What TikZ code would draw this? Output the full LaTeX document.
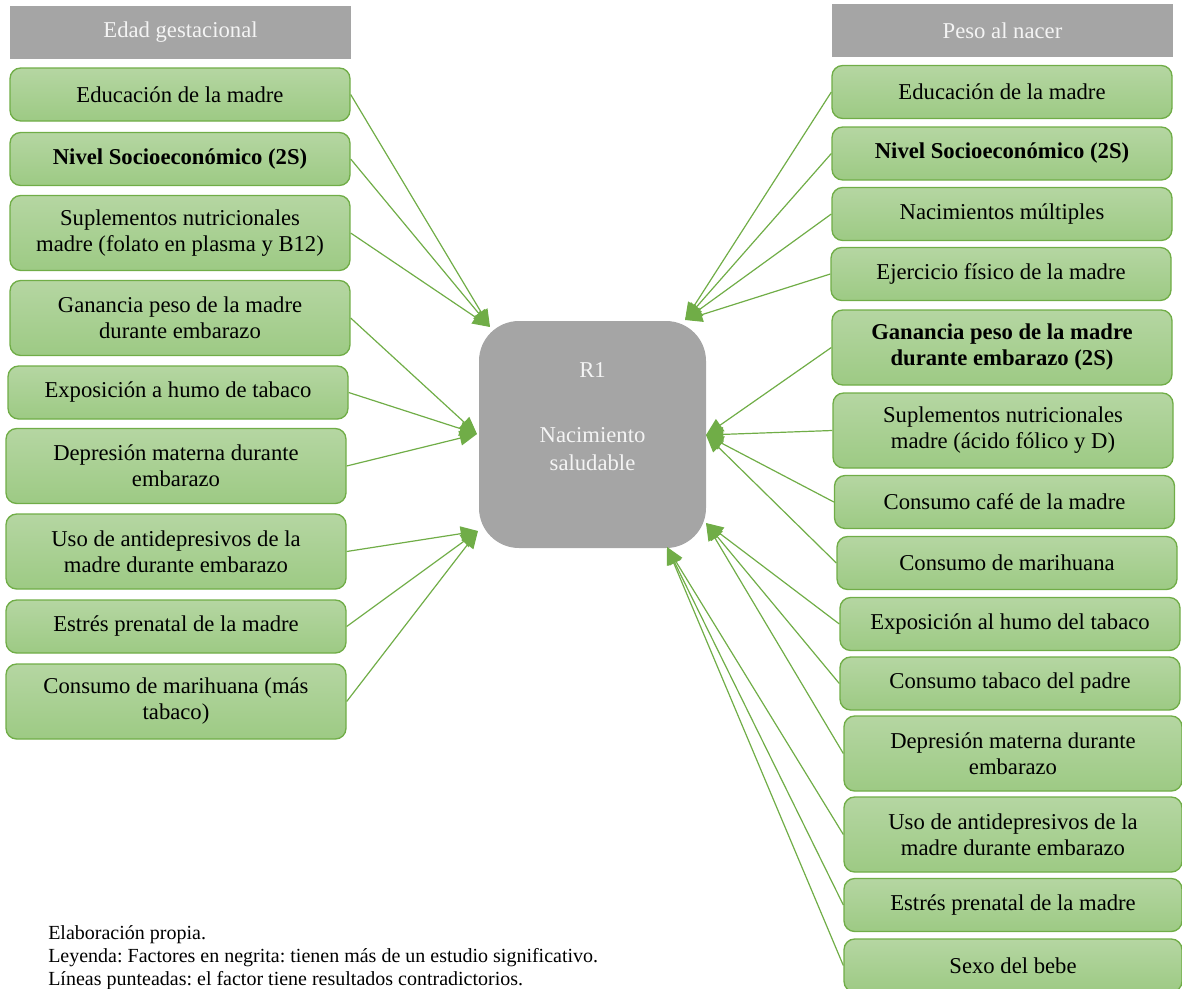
\documentclass[tikz,border=0pt]{standalone}
\usepackage{fontspec}
\setmainfont{Liberation Serif}
\usetikzlibrary{arrows.meta}
\definecolor{boxline}{HTML}{70AD47}
\definecolor{greentop}{HTML}{B5D6A2}
\definecolor{greenbot}{HTML}{9DCA84}
\definecolor{headgray}{HTML}{A5A5A5}
\definecolor{headtext}{HTML}{F4F4F4}

\begin{document}
\begin{tikzpicture}[x=0.75pt,y=-0.75pt,
  factor/.style={draw=boxline, line width=1pt, rounded corners=8pt,
    top color=greentop, bottom color=greenbot, minimum width=255pt,
    align=center, inner sep=0pt, font=\fontsize{17}{19.5}\selectfont},
  one/.style={minimum height=39.75pt},
  two/.style={minimum height=56.25pt},
  header/.style={fill=headgray, minimum width=255.75pt, minimum height=39.75pt,
    inner sep=0pt, text=headtext, font=\fontsize{17}{19.5}\selectfont},
  centretext/.style={anchor=base, inner sep=0pt, text=headtext,
    font=\fontsize{17}{19.5}\selectfont},
  link/.style={draw=boxline, line width=0.9pt, -{Triangle[length=13pt,width=11pt]}},
]
\useasboundingbox (0,0) rectangle (1182,989);
\clip (0,0) rectangle (1182,989);

% headers
\node[header] (hl) at (180.5,32.5) {Edad gestacional};
\node[header] (hr) at (1002.5,30.5) {Peso al nacer};

% central outcome
\node[fill=headgray, rounded corners=30pt, minimum width=170.25pt,
  minimum height=170.25pt, inner sep=0pt] (r1) at (592.5,434.5) {};
\node[centretext] (r1a) at (592.5,377) {R1};
\node[centretext] (r1b) at (592.5,442) {Nacimiento};
\node[centretext] (r1c) at (592.5,470) {saludable};

% gestational age factors
\node[factor,one] (l1) at (180,94.5) {Educación de la madre};
\node[factor,one] (l2) at (180,159) {\bfseries Nivel Socioeconómico (2S)};
\node[factor,two] (l3) at (180,233) {Suplementos nutricionales\\madre (folato en plasma y B12)};
\node[factor,two] (l4) at (180,318) {Ganancia peso de la madre\\durante embarazo};
\node[factor,one] (l5) at (178,392.5) {Exposición a humo de tabaco};
\node[factor,two] (l6) at (176,466) {Depresión materna durante\\embarazo};
\node[factor,two] (l7) at (176,551.5) {Uso de antidepresivos de la\\madre durante embarazo};
\node[factor,one] (l8) at (176,626.5) {Estrés prenatal de la madre};
\node[factor,two] (l9) at (176,701.5) {Consumo de marihuana (más\\tabaco)};

% birth weight factors
\node[factor,one] (w1) at (1002,92) {Educación de la madre};
\node[factor,one] (w2) at (1002,153.5) {\bfseries Nivel Socioeconómico (2S)};
\node[factor,one] (w3) at (1002,214) {Nacimientos múltiples};
\node[factor,one] (w4) at (1001,274) {Ejercicio físico de la madre};
\node[factor,two] (w5) at (1002,347.5) {\bfseries Ganancia peso de la madre\\\bfseries durante embarazo (2S)};
\node[factor,two] (w6) at (1003,430.5) {Suplementos nutricionales\\madre (ácido fólico y D)};
\node[factor,one] (w7) at (1004.5,502) {Consumo café de la madre};
\node[factor,one] (w8) at (1007,563) {Consumo de marihuana};
\node[factor,one] (w9) at (1010,624) {Exposición al humo del tabaco};
\node[factor,one] (w10) at (1010,683.5) {Consumo tabaco del padre};
\node[factor,two,minimum width=253.5pt] (w11) at (1013,753.5) {Depresión materna durante\\embarazo};
\node[factor,two,minimum width=253.5pt] (w12) at (1013,834.5) {Uso de antidepresivos de la\\madre durante embarazo};
\node[factor,one,minimum width=253.5pt] (w13) at (1013,905) {Estrés prenatal de la madre};
\node[factor,one,minimum width=253.5pt] (w14) at (1013,965.5) {Sexo del bebe};

% arrow targets around the outcome box
\coordinate (tl1) at (490,327);
\coordinate (tl2) at (477,434);
\coordinate (tl3) at (478,531);
\coordinate (tr1) at (685,320);
\coordinate (tr2) at (706,435);
\coordinate (tr3) at (706,523);
\coordinate (tr4) at (667,547);

% connectors
\foreach \s in {l1,l2,l3} \draw[link] (\s.east) -- (tl1);
\foreach \s in {l4,l5,l6} \draw[link] (\s.east) -- (tl2);
\foreach \s in {l7,l8,l9} \draw[link] (\s.east) -- (tl3);
\foreach \s in {w1,w2,w3,w4} \draw[link] (\s.west) -- (tr1);
\foreach \s in {w5,w6,w7,w8} \draw[link] (\s.west) -- (tr2);
\foreach \s in {w9,w10,w11} \draw[link] (\s.west) -- (tr3);
\foreach \s in {w12,w13,w14} \draw[link] (\s.west) -- (tr4);

% source note
\node[anchor=north west, align=left, inner sep=0pt,
  font=\fontsize{15}{17.25}\selectfont\frenchspacing] (note) at (48,925)
  {Elaboración propia.\\
   Leyenda: Factores en negrita: tienen más de un estudio significativo.\\
   Líneas punteadas: el factor tiene resultados contradictorios.};
\end{tikzpicture}
\end{document}
